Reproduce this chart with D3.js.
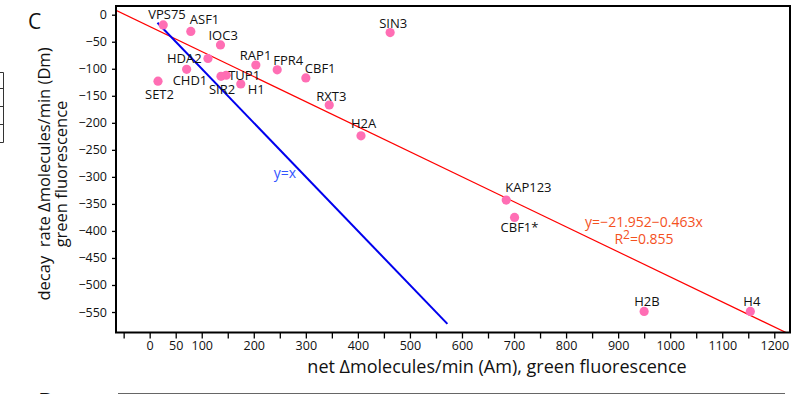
<!DOCTYPE html>
<meta charset="utf-8">
<style>
body { margin: 0; background: #fff; }
svg { display: block; }
text { font-family: "Open Sans", sans-serif; fill: #111; }
.tick text { font-size: 12.5px; }
.tick line { stroke: #000; stroke-width: 1.3px; }
.domain { display: none; }
.lbl { font-size: 13px; }
.eq { font-size: 14px; }
.ttl { font-size: 18px; white-space: pre; }
</style>
<body>
<script src="https://cdnjs.cloudflare.com/ajax/libs/d3/7.8.5/d3.min.js"></script>
<script>
// genes, net molecules/min (Am) and decay rate (Dm)
var genes = ["VPS75","ASF1","IOC3","HDA2","RAP1","FPR4","CHD1","SET2","TUP1","SIR2","H1","CBF1","SIN3","RXT3","H2A","KAP123","CBF1*","H2B","H4"];
var amValues = [26, 79, 136, 112, 204, 245, 71, 16, 147, 137, 175, 300, 462, 345, 406, 685, 701, 950, 1154];
var dmValues = [-19, -31, -56, -81, -93, -102, -101, -123, -112, -114, -128, -117, -33, -167, -224, -343, -375, -549, -549];

// regression line and the y=x guide
var fitIntercept = -21.952, fitSlope = -0.463;
var guideRange = [15, 572];

// tick values
var xTicks = d3.range(-50, 1201, 50);
var xTickLabels = [0, 50, 100, 200, 300, 400, 500, 600, 700, 800, 900, 1000, 1100, 1200];
var yTicks = d3.range(0, -551, -50);

// label offsets from each dot (px), layout only
var labelOffsets = [[-15,-6],[-1,-7],[-12,-5],[-41,5],[-16,-5],[-4,-5],[-14,16],[-13,18],[2,5],[-12,18],[7,10],[-1,-5],[-11,-5],[-13,-4],[-10,-8],[-1,-8],[-14,15],[-10,-5],[-7,-5]];

var W = 811, H = 394;
var svg = d3.select("body").append("svg").attr("width", W).attr("height", H);

var pL = 116, pR = 790, pT = 6, pB = 332.5;
var x = d3.scaleLinear().domain([-64.7, 1230.2]).range([pL, pR]);
var y = d3.scaleLinear().domain([16.1, -587.9]).range([pT, pB]);

// panel letters and fragments of neighbouring panels
svg.append("text").attr("x", 28).attr("y", 29).style("font-size", "21px").text("C");
svg.append("text").attr("x", 38).attr("y", 410).style("font-size", "24px").text("D");
svg.append("line").attr("x1", 118).attr("x2", 785).attr("y1", 393.5).attr("y2", 393.5)
   .attr("stroke", "#666").attr("stroke-width", 1);
svg.append("path").attr("d", "M0,72.5H3.5V142.5H0M0,88.5H3.5M0,106.5H3.5M0,124.5H3.5")
   .attr("fill", "none").attr("stroke", "#333").attr("stroke-width", 1);

// axes
svg.append("g").attr("transform", "translate(0," + pB + ")")
   .call(d3.axisBottom(x).tickValues(xTicks).tickSize(6).tickPadding(3)
     .tickFormat(function(d){ return xTickLabels.indexOf(d) >= 0 ? d : ""; }));
svg.append("g").attr("transform", "translate(" + pL + ",0)")
   .call(d3.axisLeft(y).tickValues(yTicks).tickSize(4).tickPadding(5));

var plot = svg.append("g");
plot.append("clipPath").attr("id", "clip").append("rect")
   .attr("x", pL).attr("y", pT).attr("width", pR - pL).attr("height", pB - pT);

// regression line
var fitX = x.domain();
plot.append("line").attr("clip-path", "url(#clip)")
   .attr("x1", x(fitX[0])).attr("y1", y(fitIntercept + fitSlope * fitX[0]))
   .attr("x2", x(fitX[1])).attr("y2", y(fitIntercept + fitSlope * fitX[1]))
   .attr("stroke", "#ff0000").attr("stroke-width", 1.2);

// y=x guide (drawn against negated decay rate)
plot.append("line")
   .attr("x1", x(guideRange[0])).attr("y1", y(-guideRange[0]))
   .attr("x2", x(guideRange[1])).attr("y2", y(-guideRange[1]))
   .attr("stroke", "#0000ee").attr("stroke-width", 2);

// points
plot.selectAll("circle").data(genes).enter().append("circle")
   .attr("cx", function(d, i){ return x(amValues[i]); })
   .attr("cy", function(d, i){ return y(dmValues[i]); })
   .attr("r", 4.6).attr("fill", "#ff6eb4");

plot.selectAll("text.lbl").data(genes).enter().append("text").attr("class", "lbl")
   .attr("x", function(d, i){ return x(amValues[i]) + labelOffsets[i][0]; })
   .attr("y", function(d, i){ return y(dmValues[i]) + labelOffsets[i][1]; })
   .text(function(d){ return d; });

// frame
svg.append("rect").attr("x", pL).attr("y", pT).attr("width", pR - pL).attr("height", pB - pT)
   .attr("fill", "none").attr("stroke", "#000").attr("stroke-width", 2);

// annotations
svg.append("text").attr("class", "eq").attr("x", 285).attr("y", 178)
   .attr("text-anchor", "middle").style("fill", "#3355ff").text("y=x");
svg.append("text").attr("class", "eq").attr("x", 644).attr("y", 227)
   .attr("text-anchor", "middle").style("fill", "#f4511e").text("y=\u221221.952\u22120.463x");
var r2 = svg.append("text").attr("class", "eq").attr("x", 644).attr("y", 244)
   .attr("text-anchor", "middle").style("fill", "#f4511e");
r2.append("tspan").text("R");
r2.append("tspan").attr("dy", -5).style("font-size", "12px").text("2");
r2.append("tspan").attr("dy", 5).text("=0.855");

// axis titles
svg.append("text").attr("class", "ttl").attr("x", 497).attr("y", 373)
   .attr("text-anchor", "middle").text("net \u0394molecules/min (Am), green fluorescence");
var yt = svg.append("text").attr("class", "ttl").style("font-size", "16.5px").attr("text-anchor", "middle")
   .attr("transform", "translate(0,174) rotate(-90)");
yt.append("tspan").attr("x", 0).attr("y", 50).text("decay  rate \u0394molecules/min (Dm)");
yt.append("tspan").attr("x", 0).attr("y", 67).text("green fluorescence");
</script>
</body>
